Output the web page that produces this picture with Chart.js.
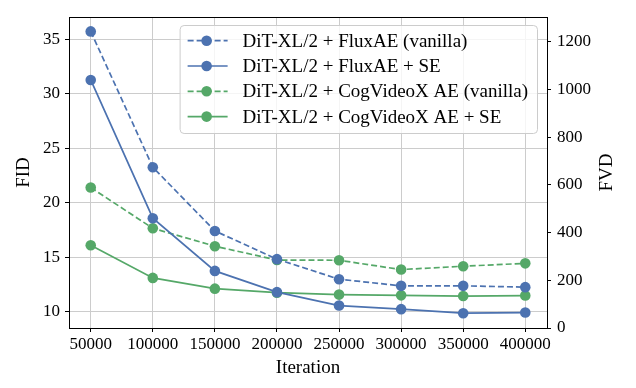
<!DOCTYPE html>
<html lang="en">
<head>
<meta charset="UTF-8">
<title>FID / FVD vs Iteration</title>
<script src="https://cdn.jsdelivr.net/npm/chart.js"></script>
<style>
  html, body { margin: 0; padding: 0; background: #fff; }
  #wrap { width: 636px; height: 388px; }
</style>
</head>
<body>
<div id="wrap"><canvas id="chart" width="636" height="388"></canvas></div>
<script>
  // values
  const iterations = [50000, 100000, 150000, 200000, 250000, 300000, 350000, 400000];
  const fluxVanilla = [35.73, 23.26, 17.41, 14.82, 12.98, 12.37, 12.37, 12.25];   // FID
  const fluxSE = [31.27, 18.58, 13.74, 11.79, 10.56, 10.23, 9.86, 9.92];          // FID
  const cogVanilla = [589, 418, 343, 285, 284, 245, 259, 271];                     // FVD
  const cogSE = [347, 210, 165, 148, 140, 137, 134, 136];                          // FVD
  const fidTicks = [10, 15, 20, 25, 30, 35];
  const fvdTicks = [0, 200, 400, 600, 800, 1000, 1200];
  const labels = [
    'DiT-XL/2 + FluxAE (vanilla)',
    'DiT-XL/2 + FluxAE + SE',
    'DiT-XL/2 + CogVideoX AE (vanilla)',
    'DiT-XL/2 + CogVideoX AE + SE'
  ];

  const BLUE = '#4C72B0';
  const GREEN = '#55A868';
  const SERIF = "'Liberation Serif', 'DejaVu Serif', serif";

  function toPoints(values) {
    return values.map((v, i) => ({ x: iterations[i], y: v }));
  }

  function makeSet(label, values, color, dashed, axis) {
    return {
      label: label,
      data: toPoints(values),
      yAxisID: axis,
      borderColor: color,
      backgroundColor: color,
      borderWidth: 1.7,
      borderDash: dashed ? [6, 3] : [],
      pointRadius: 5.3,
      pointHoverRadius: 5.3,
      pointBorderWidth: 0,
      tension: 0,
      fill: false
    };
  }

  // frame, legend and the right axis title
  const extras = {
    id: 'extras',
    afterDraw(chart) {
      const ctx = chart.ctx;
      const area = chart.chartArea;
      ctx.save();

      // top edge of the frame
      ctx.strokeStyle = '#000';
      ctx.lineWidth = 1;
      ctx.beginPath();
      ctx.moveTo(area.left, area.top + 0.5);
      ctx.lineTo(area.right, area.top + 0.5);
      ctx.stroke();

      // legend
      ctx.font = '19px ' + SERIF;
      let maxW = 0;
      labels.forEach(t => { maxW = Math.max(maxW, ctx.measureText(t).width); });
      const boxR = area.right - 10;
      const boxT = area.top + 8;
      const boxW = 63 + maxW + 9;
      const boxH = 108;
      const boxL = boxR - boxW;
      ctx.fillStyle = 'rgba(255,255,255,0.8)';
      ctx.strokeStyle = '#cccccc';
      ctx.beginPath();
      ctx.roundRect(boxL + 0.5, boxT + 0.5, boxW, boxH, 4);
      ctx.fill();
      ctx.stroke();

      chart.data.datasets.forEach((ds, i) => {
        const y = boxT + 15.7 + i * 25.3;
        ctx.strokeStyle = ds.borderColor;
        ctx.lineWidth = ds.borderWidth;
        ctx.setLineDash(ds.borderDash);
        ctx.beginPath();
        ctx.moveTo(boxL + 8, y);
        ctx.lineTo(boxL + 48, y);
        ctx.stroke();
        ctx.setLineDash([]);
        ctx.fillStyle = ds.borderColor;
        ctx.beginPath();
        ctx.arc(boxL + 27, y, 5.3, 0, Math.PI * 2);
        ctx.fill();
        ctx.fillStyle = '#000';
        ctx.textBaseline = 'middle';
        ctx.textAlign = 'left';
        ctx.fillText(ds.label, boxL + 63, y + 1);
      });

      // right axis title, reading bottom to top like the left one
      ctx.font = '19px ' + SERIF;
      ctx.fillStyle = '#000';
      ctx.translate(607, (area.top + area.bottom) / 2);
      ctx.rotate(-Math.PI / 2);
      ctx.textAlign = 'center';
      ctx.textBaseline = 'middle';
      ctx.fillText('FVD', 0, 0);
      ctx.restore();
    }
  };

  const tickFont = { family: SERIF, size: 17 };
  const titleFont = { family: SERIF, size: 19 };

  new Chart(document.getElementById('chart'), {
    type: 'line',
    data: {
      datasets: [
        makeSet(labels[0], fluxVanilla, BLUE, true, 'yFid'),
        makeSet(labels[1], fluxSE, BLUE, false, 'yFid'),
        makeSet(labels[2], cogVanilla, GREEN, true, 'yFvd'),
        makeSet(labels[3], cogSE, GREEN, false, 'yFvd')
      ]
    },
    options: {
      responsive: false,
      animation: false,
      layout: { padding: { top: 17, left: 0, right: 0, bottom: 0 } },
      plugins: {
        legend: { display: false },
        tooltip: { enabled: false }
      },
      scales: {
        x: {
          type: 'linear',
          min: 32500,
          max: 417500,
          afterBuildTicks: s => { s.ticks = iterations.map(v => ({ value: v })); },
          afterFit: s => { s.height = 60; },
          ticks: { font: tickFont, color: '#000', padding: 2, maxRotation: 0, callback: v => String(v) },
          grid: { color: '#cccccc', lineWidth: 1, tickLength: 4, tickColor: '#000' },
          border: { color: '#000', width: 1 },
          title: { display: true, text: 'Iteration', color: '#000', font: titleFont, padding: { top: 0, bottom: 9 } }
        },
        yFid: {
          type: 'linear',
          position: 'left',
          min: 8.5,
          max: 37.05,
          afterBuildTicks: s => { s.ticks = fidTicks.map(v => ({ value: v })); },
          afterFit: s => { s.width = 69; },
          ticks: { font: tickFont, color: '#000', padding: 5, callback: v => String(v) },
          grid: { color: '#cccccc', lineWidth: 1, tickLength: 4, tickColor: '#000' },
          border: { color: '#000', width: 1 },
          title: { display: true, text: 'FID', color: '#000', font: titleFont, padding: { top: 13, bottom: 0 } }
        },
        yFvd: {
          type: 'linear',
          position: 'right',
          min: 0,
          max: 1304,
          afterBuildTicks: s => { s.ticks = fvdTicks.map(v => ({ value: v })); },
          afterFit: s => { s.width = 89; },
          ticks: { font: tickFont, color: '#000', padding: 6, callback: v => String(v) },
          grid: { drawOnChartArea: false, tickLength: 4, tickColor: '#000' },
          border: { color: '#000', width: 1 }
        }
      }
    },
    plugins: [extras]
  });
</script>
</body>
</html>
